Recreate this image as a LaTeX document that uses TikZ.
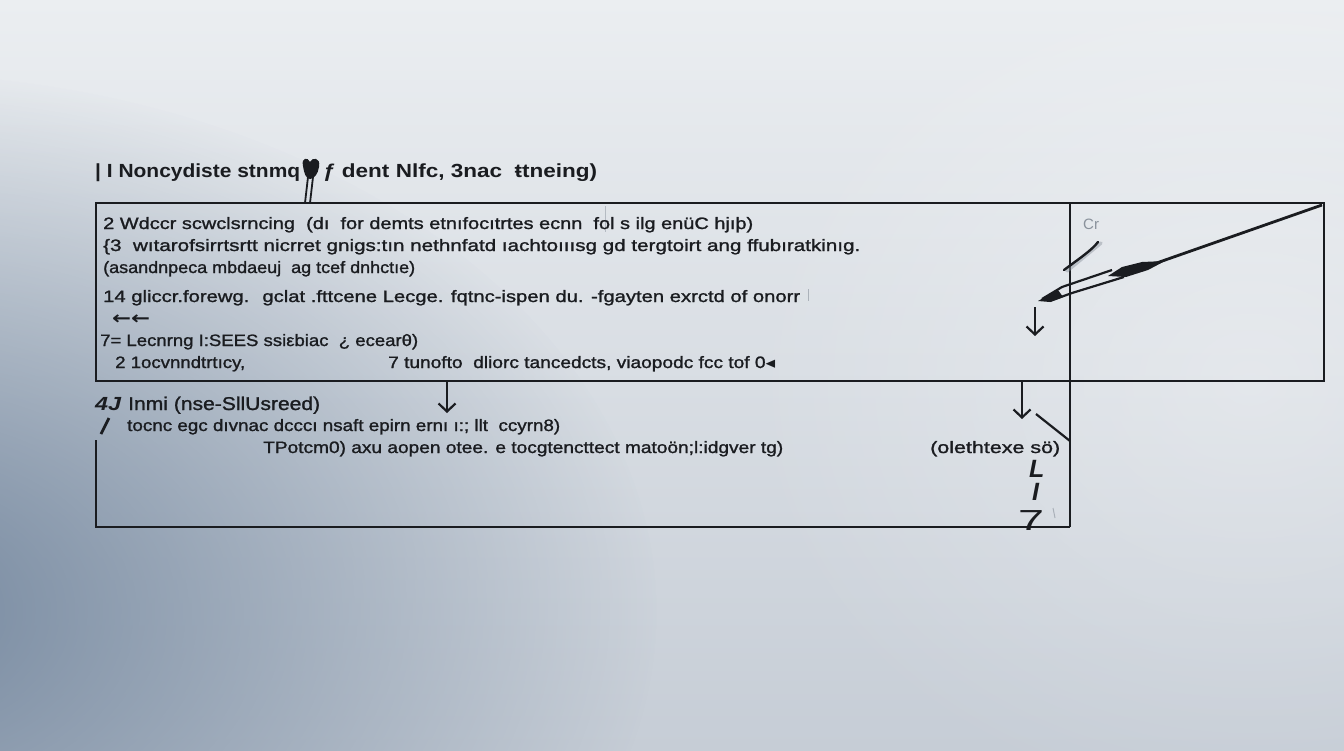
\documentclass[tikz,border=0pt]{standalone}
\usepackage{fontspec}
\setmainfont{Liberation Sans}
\newfontfamily\djv{DejaVu Sans}
\newfontfamily\medfont{Liberation Sans}[FakeBold=1.2]
\usetikzlibrary{arrows.meta,fadings}
\definecolor{ink}{HTML}{1A1C20}
\definecolor{bgtop}{HTML}{EBEEF1}
\definecolor{bgbot}{HTML}{C6CDD6}
\definecolor{blob}{HTML}{75889F}
\definecolor{faint}{HTML}{8A929C}
\newcommand{\fw}[2]{\resizebox{#1pt}{\height}{#2}}
\tikzfading[name=blobfade, inner color=transparent!0, outer color=transparent!100]
\tikzset{
  body/.style={anchor=base west, inner sep=0pt, text=ink, font=\fontsize{16.5}{18}\medfont},
  ttl/.style={anchor=base west, inner sep=0pt, text=ink, font=\fontsize{19}{21}\bfseries\selectfont},
  hd/.style={anchor=base west, inner sep=0pt, text=ink, font=\fontsize{18.5}{20}\medfont},
  glyph/.style={anchor=base west, inner sep=0pt, text=ink},
  frame/.style={draw=ink, line width=2.8pt},
  conn/.style={draw=ink, line width=2.2pt, -{Straight Barb[length=8pt,width=17pt,line width=2.2pt]}},
  stroke/.style={draw=ink, line width=2.2pt},
}
\begin{document}
\begin{tikzpicture}[x=1pt,y=-1pt]
\useasboundingbox (0,0) rectangle (1344,750);
% background
\shade[top color=bgtop, bottom color=bgbot] (0,0) rectangle (1344,750);
\begin{scope}
  \clip (0,0) rectangle (1344,750);
  \fill[blob, path fading=blobfade] (-120,610) ellipse (780 and 540);
  \fill[white, opacity=0.3, path fading=blobfade] (1250,380) ellipse (520 and 440);
\end{scope}

% frames
\coordinate (tl) at (96,203);
\coordinate (tr) at (1324,203);
\coordinate (br) at (1324,381);
\coordinate (bl) at (96,381);
\coordinate (dvt) at (1070,203);
\coordinate (dvb) at (1070,527);
\coordinate (b2l) at (96,440);
\coordinate (b2b) at (96,527);
\draw[frame] (tl) rectangle (br);
\draw[frame] (dvt) -- (dvb);
\draw[frame] (b2l) -- (b2b) -- (dvb);

% faint marks
\draw[faint, line width=1pt, opacity=0.5] (605,206) -- (605,232);
\draw[faint, line width=1pt, opacity=0.6] (808,289) -- (808,301);

% title
\node[ttl] (t1) at (95,177) {\fw{205}{| I Noncydiste stnmq}};
\node[ttl] (t2) at (323,177) {\fw{274}{ƒ dent Nlfc, 3nac \ ŧtneing)}};
% pin icon
\fill[ink] (303,166) .. controls (301,157) and (308,157) .. (310,162) .. controls (312,157) and (321,157) .. (319,167) .. controls (318,174) and (314,179) .. (310,179) .. controls (306,179) and (304,173) .. (303,166) -- cycle;
\coordinate (pinA) at (308,177);
\coordinate (pinB) at (313,177);
\coordinate (pinC) at (305,203);
\coordinate (pinD) at (310,203);
\draw[ink, line width=1.8pt] (pinA) -- (pinC);
\draw[ink, line width=1.8pt] (pinB) -- (pinD);

% box 1 text
\node[body] (l1) at (103,229) {\fw{650}{2 Wdccr scwclsrncing \ (dı \ for demts etnıfocıtrtes ecnn \ fol s ilg enüC hjıþ)}};
\node[body] (l2) at (103,251) {\fw{757}{\{3 \ wıtarofsirrtsrtt nicrret gnigs:tın nethnfatd ıachtoııısg gd tergtoirt ang ffubıratkinıg.}};
\node[body] (l3) at (103,273) {\fw{312}{(asandnpeca mbdaeuj \ ag tcef dnhctıe)}};
\node[body] (l4) at (103,302) {\fw{697}{14 gliccr.forewg. \ gclat .fttcene Lecge. fqtnc-ispen du. -fgayten exrctd of onorr}};
\node[glyph, font=\fontsize{18}{18}\bfseries\djv] (l5) at (112,324) {\fw{38}{←←}};
\node[body] (l6) at (100,346) {\fw{318}{7= Lecnrng I:SEES ssiεbiac \ ¿ ecearθ)}};
\node[body] (l7a) at (115,368) {\fw{130}{2 1ocvnndtrtıcy,}};
\node[body] (l7b) at (388,368) {\fw{387}{7 tunofto \ dliorc tancedcts, viaopodc fcc tof 0{\djv ◂}}};

% right panel of box 1
\node[glyph, text=faint, font=\fontsize{15}{16}\selectfont] (cr) at (1083,229) {Cr};
\coordinate (sl1) at (1064,270);
\coordinate (sl2) at (1098,242);
\draw[faint, line width=3.5pt, opacity=0.45, line cap=round] ([xshift=3pt,yshift=-1pt]sl1) -- ([xshift=3pt,yshift=-1pt]sl2);
\draw[ink, line width=2.4pt, line cap=round] (sl1) .. controls (1080,258) and (1092,250) .. (sl2);
\coordinate (bladeA) at (1322,205);
\coordinate (bladeB) at (1148,266);
\draw[ink, line width=2.8pt] (bladeA) -- (bladeB);
\fill[ink] (1165,261) -- (1142,262) -- (1122,267) -- (1108,276) -- (1126,277) -- (1148,270) -- cycle;
\draw[ink, line width=2.2pt] (1112,270) -- (1062,287) -- (1042,299);
\draw[ink, line width=2.2pt] (1124,277) -- (1072,293) -- (1050,301);
\fill[ink] (1038,301) -- (1058,290) -- (1063,297) -- (1050,302) -- cycle;
\coordinate (ar1s) at (1035,307);
\coordinate (ar1e) at (1035,336);
\draw[conn] (ar1s) -- (ar1e);

% connectors below box 1
\coordinate (ar2s) at (447,381);
\coordinate (ar2e) at (447,413);
\draw[conn] (ar2s) -- (ar2e);
\coordinate (ar3s) at (1022,381);
\coordinate (ar3e) at (1022,419);
\draw[conn] (ar3s) -- (ar3e);
\coordinate (dg1) at (1036,414);
\coordinate (dg2) at (1070,441);
\draw[stroke] (dg1) -- (dg2);

% box 2 text
\node[glyph, font=\fontsize{19}{20}\bfseries\itshape\selectfont] (n4) at (95,410) {\fw{26}{4J}};
\node[hd] (b1) at (128,410) {\fw{192}{Inmi (nse-SllUsreed)}};
\coordinate (sla) at (101,434);
\coordinate (slb) at (109,418);
\draw[ink, line width=2.8pt] (sla) -- (slb);
\node[body] (b2) at (127,431) {\fw{433}{tocnc egc dıvnac dcccı nsaft epirn ernı ı:; llt \ ccyrn8)}};
\node[body] (b3) at (263,453) {\fw{520}{TPotcm0) axu aopen otee. e tocgtencttect matoön;l:idgver tg)}};
\node[body] (b4) at (930,453) {\fw{130}{(olethtexe sö)}};
\node[glyph, font=\fontsize{25}{26}\bfseries\itshape\selectfont] (gl) at (1029,477) {L};
\node[glyph, font=\fontsize{25}{26}\bfseries\itshape\selectfont] (gi) at (1032,500) {I};
\node[glyph, font=\fontsize{29}{30}\selectfont] (g7) at (1018,530) {\fw{26}{7}};
\draw[faint, line width=1pt, opacity=0.6] (1053,508) -- (1055,518);
\end{tikzpicture}
\end{document}
